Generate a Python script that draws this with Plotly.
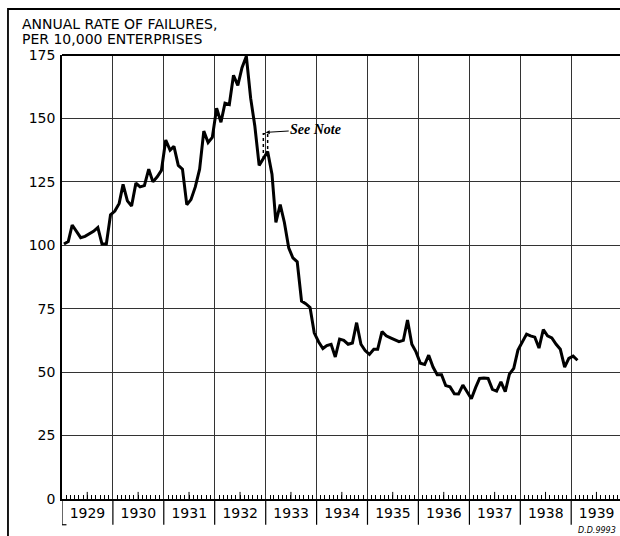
import plotly.graph_objects as go

# ---- data ----
years = [1929, 1930, 1931, 1932, 1933, 1934, 1935, 1936, 1937, 1938, 1939]
rate_1929 = [100.5, 101.5, 108, 105.5, 103, 103.5, 104.5, 105.5, 107, 100.5, 100.5, 112]
rate_1930 = [113.5, 116.5, 124, 117.5, 115.5, 124.5, 123, 123.5, 130, 125, 127, 129.5]
rate_1931 = [141.5, 137.5, 139, 131.5, 130, 116, 118, 123, 130, 145, 140.5, 142.5]
rate_1932 = [154, 148.5, 156, 155.5, 167, 163, 170, 174.5, 158, 147, 131.5, 134]
rate_1933 = [137, 128, 109, 116, 109, 99, 95, 93.5, 78, 77, 75.5, 65.5]
rate_1934 = [62, 59.3, 60.5, 61, 56, 63, 62.5, 61, 61.5, 69.5, 61, 58.5]
rate_1935 = [57, 59, 59, 66, 64.3, 63.5, 62.6, 62, 62.5, 70.5, 61, 58]
rate_1936 = [53.5, 53, 56.7, 52, 49, 49, 44.7, 44.2, 41.5, 41.4, 44.9, 42.5]
rate_1937 = [39.5, 44, 47.5, 47.7, 47.5, 43.2, 42.5, 46.2, 42.3, 49.2, 51.5, 58.7]
rate_1938 = [62, 65, 64.3, 63.8, 59.5, 66.8, 64.3, 63.5, 61, 59, 52, 55.4]
rate_1939 = [56.3, 54.7]
yearly = [rate_1929, rate_1930, rate_1931, rate_1932, rate_1933, rate_1934,
          rate_1935, rate_1936, rate_1937, rate_1938, rate_1939]

# dotted "See Note" alternative around the series break
note_dates = ["1932-12-15", "1932-12-15", "1933-01-15", "1933-01-15"]
note_values = [134, 144, 144, 137]

y_ticks = [0, 25, 50, 75, 100, 125, 150, 175]

# ---- build series ----
dates, values = [], []
for yr, vals in zip(years, yearly):
    for m, v in enumerate(vals):
        dates.append(f"{yr}-{m + 1:02d}-15")
        values.append(v)

fig = go.Figure()
fig.add_trace(go.Scatter(x=dates, y=values, mode="lines",
                         line=dict(color="black", width=3), hoverinfo="skip"))
fig.add_trace(go.Scatter(x=note_dates, y=note_values, mode="lines",
                         line=dict(color="black", width=1.5, dash="dot"),
                         hoverinfo="skip"))

shapes = []
# year dividers extending below the axis through the label band
for yr in years:
    shapes.append(dict(type="line", xref="x", yref="paper",
                       x0=f"{yr}-01-01", x1=f"{yr}-01-01", y0=0, y1=-0.058,
                       line=dict(color="black", width=1.2)))
    # taller mid-year tick
    shapes.append(dict(type="line", xref="x", yref="y",
                       x0=f"{yr}-07-01", x1=f"{yr}-07-01", y0=0, y1=2.8,
                       line=dict(color="black", width=1)))
# foot of the left axis
shapes.append(dict(type="line", xref="paper", yref="paper",
                   x0=0, x1=0.008, y0=-0.058, y1=-0.058,
                   line=dict(color="black", width=1.2)))
# top border of the plot
shapes.append(dict(type="line", xref="paper", yref="paper",
                   x0=0, x1=1, y0=1, y1=1, line=dict(color="black", width=1.8)))
# outer frame (left and top edges visible; others fall outside the page)
shapes.append(dict(type="rect", xref="paper", yref="paper",
                   x0=-0.0968, x1=1.2, y0=-0.3, y1=1.1036,
                   line=dict(color="black", width=1.8), fillcolor="rgba(0,0,0,0)"))

title_font = dict(family="DejaVu Sans", size=14, color="black")
annotations = [
    dict(text="ANNUAL RATE OF FAILURES,", xref="paper", yref="paper",
         x=-0.076, y=1.0687, xanchor="left", yanchor="middle",
         showarrow=False, font=title_font),
    dict(text="PER 10,000 ENTERPRISES", xref="paper", yref="paper",
         x=-0.076, y=1.036, xanchor="left", yanchor="middle",
         showarrow=False, font=title_font),
    dict(text="<b><i>See Note</i></b>", xref="x", yref="y",
         x="1933-01-01", y=144.5, ax=50, ay=-3, xanchor="center",
         showarrow=True, arrowhead=2, arrowsize=0.8, arrowwidth=1, arrowcolor="black",
         font=dict(family="Liberation Serif", size=14, color="black")),
    dict(text="<i>D.D.9993</i>", xref="paper", yref="paper",
         x=0.997, y=-0.07, xanchor="right", yanchor="middle", showarrow=False,
         font=dict(family="DejaVu Sans", size=8, color="black")),
]

fig.update_layout(
    width=620, height=536,
    margin=dict(l=62, r=0, t=55, b=37),
    paper_bgcolor="white", plot_bgcolor="white",
    showlegend=False,
    shapes=shapes, annotations=annotations,
    xaxis=dict(type="date", range=["1929-01-01", "1939-12-17"],
               dtick="M12", tick0="1929-01-01", tickformat="%Y",
               ticklabelmode="period", ticks="",
               showgrid=True, gridcolor="#333", gridwidth=1.1,
               showline=True, linecolor="black", linewidth=2,
               minor=dict(dtick="M1", tick0="1929-01-01", ticks="inside",
                          ticklen=4, tickwidth=1, tickcolor="black", showgrid=False),
               tickfont=dict(family="DejaVu Sans", size=14, color="black"),
               zeroline=False, fixedrange=True),
    yaxis=dict(range=[0, 175], tickvals=y_ticks, ticktext=[str(v) for v in y_ticks],
               showgrid=True, gridcolor="#333", gridwidth=1.1,
               showline=True, linecolor="black", linewidth=1.6,
               ticks="outside", ticklen=2, tickcolor="rgba(0,0,0,0)",
               tickfont=dict(family="DejaVu Sans", size=14, color="black"),
               zeroline=False, fixedrange=True),
)

fig.write_html("out.html",
               config={"displayModeBar": False},
               post_script="document.body.style.margin='0px';"
                           "document.body.style.overflow='hidden';")
